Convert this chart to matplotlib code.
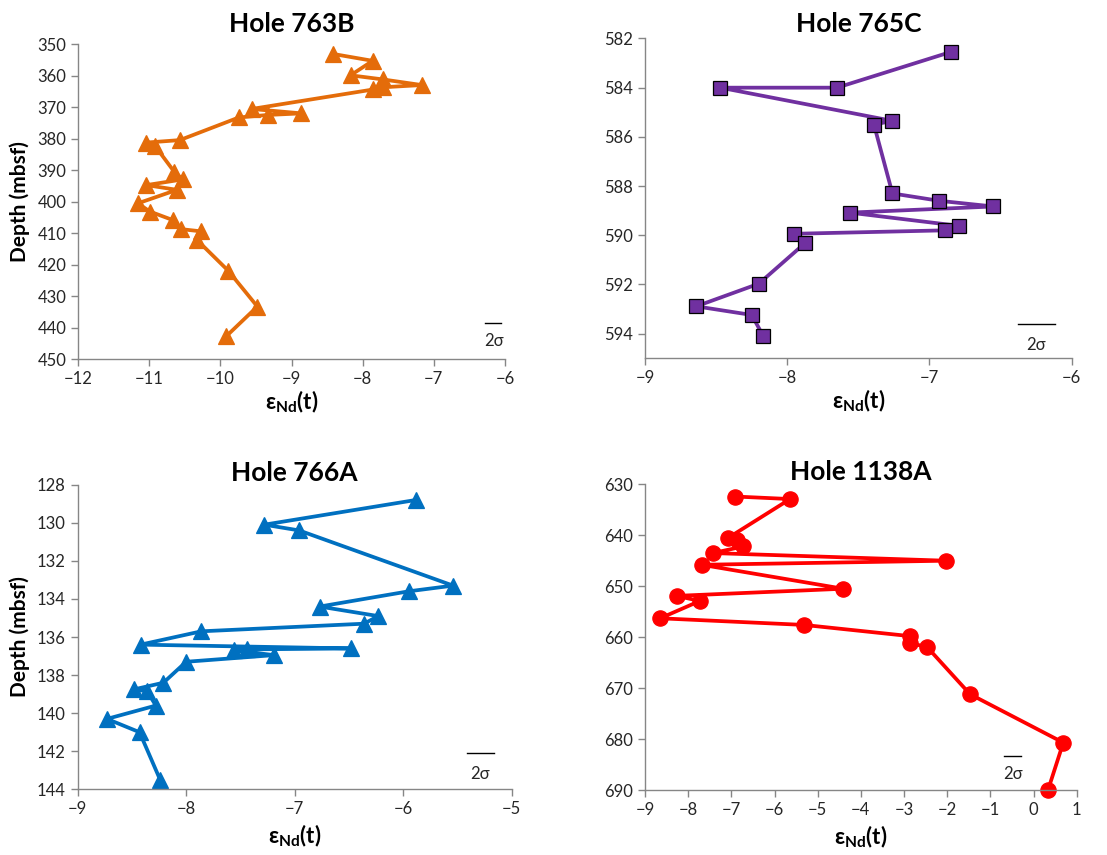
import matplotlib
matplotlib.use("Agg")
import matplotlib.pyplot as plt

plt.rcParams['font.family'] = ['Lato', 'DejaVu Sans']
plt.rcParams['mathtext.fontset'] = 'custom'
plt.rcParams['mathtext.bf'] = 'Lato:bold'
plt.rcParams['mathtext.rm'] = 'Lato'

# Hole 763B
eps_763b = [-8.42, -7.86, -8.17, -7.72, -7.17, -7.71, -7.85, -9.56, -8.86, -9.33,
            -9.74, -10.57, -11.05, -10.92, -10.65, -10.53, -11.04, -10.61, -11.16,
            -10.99, -10.67, -10.55, -10.27, -10.33, -9.89, -9.48, -9.92]
dep_763b = [353.0, 355.2, 359.8, 361.1, 362.9, 363.6, 364.3, 370.5, 371.9, 372.4,
            373.2, 380.4, 381.2, 382.2, 390.4, 392.9, 394.7, 396.2, 400.5,
            403.1, 405.8, 408.7, 409.4, 412.1, 421.9, 433.3, 442.8]

# Hole 765C
eps_765c = [-6.85, -7.65, -8.47, -7.26, -7.39, -7.26, -6.93, -6.55, -7.56, -6.79,
            -6.89, -7.95, -7.875, -8.20, -8.64, -8.25, -8.17]
dep_765c = [582.55, 584.0, 584.0, 585.35, 585.5, 588.3, 588.6, 588.83, 589.08, 589.62,
            589.8, 589.94, 590.32, 591.97, 592.89, 593.24, 594.08]

# Hole 766A
eps_766a = [-5.88, -7.28, -6.96, -5.54, -5.95, -6.77, -6.23, -6.36, -7.86, -8.42,
            -6.48, -7.44, -7.56, -7.19, -8.00, -8.21, -8.48, -8.36, -8.28, -8.73,
            -8.43, -8.24]
dep_766a = [128.8, 130.1, 130.4, 133.3, 133.6, 134.4, 134.9, 135.3, 135.7, 136.4,
            136.6, 136.65, 136.7, 136.95, 137.3, 138.4, 138.75, 138.85, 139.6, 140.3,
            141.0, 143.5]

# Hole 1138A
eps_1138a = [-6.92, -5.64, -7.07, -6.88, -6.72, -7.43, -2.03, -7.69, -4.41, -8.27,
             -7.73, -8.65, -5.32, -2.86, -2.86, -2.47, -1.47, 0.69, 0.34]
dep_1138a = [632.4, 632.9, 640.5, 641.0, 642.2, 643.5, 645.0, 645.8, 650.5, 651.9,
             652.9, 656.3, 657.6, 659.8, 661.2, 661.9, 671.2, 680.7, 689.9]

panels = [
    # title, x, y, xlim, xticks, ylim, yticks, color, marker, ms, edge, rect, title pad,
    # xlabel pad, 2sigma bar (x0, x1, y), 2sigma text pos, show ylabel
    ("Hole 763B", eps_763b, dep_763b, (-12, -6), range(-12, -5), (450, 350), range(350, 451, 10),
     '#E46C0A', '^', 12, '#E46C0A', [0.0705, 0.580, 0.3857, 0.368], 9, 1,
     (-6.28, -6.05, 438.6), (-6.15, 444.4), True),
    ("Hole 765C", eps_765c, dep_765c, (-9, -6), range(-9, -5), (595, 582), range(582, 595, 2),
     '#7030A0', 's', 10.5, 'black', [0.5827, 0.581, 0.3853, 0.374], 5, 1,
     (-6.38, -6.12, 593.62), (-6.25, 594.45), False),
    ("Hole 766A", eps_766a, dep_766a, (-9, -5), range(-9, -4), (144, 128), range(128, 145, 2),
     '#0070C0', '^', 12, '#0070C0', [0.0702, 0.0768, 0.3920, 0.3563], 3, 4,
     (-5.41, -5.16, 142.08), (-5.29, 143.2), True),
    ("Hole 1138A", eps_1138a, dep_1138a, (-9, 1), range(-9, 2), (690, 630), range(630, 691, 10),
     '#FF0000', 'o', 11, '#FF0000', [0.5827, 0.076, 0.3899, 0.3576], 3, 4,
     (-0.68, -0.29, 683.3), (-0.48, 686.9), False),
]

fig = plt.figure(figsize=(11.07, 8.55), dpi=100)

for (title, xs, ys, xlim, xticks, ylim, yticks, color, marker, ms, edge, rect, pad, xpad,
     bar, txt, ylab) in panels:
    ax = fig.add_axes(rect)
    ax.plot(xs, ys, color=color, lw=2.7, marker=marker, ms=ms,
            markerfacecolor=color, markeredgecolor=edge, markeredgewidth=0.9, clip_on=False)
    ax.set_xlim(*xlim)
    ax.set_ylim(*ylim)
    ax.set_xticks(list(xticks))
    ax.set_yticks(list(yticks))
    for s in ['top', 'right']:
        ax.spines[s].set_visible(False)
    for s in ['left', 'bottom']:
        ax.spines[s].set_color('#868686')
        ax.spines[s].set_linewidth(1.0)
    ax.tick_params(direction='out', length=5, width=1, color='#868686',
                   labelsize=12, labelcolor='#262626')
    ax.set_title(title, fontsize=19, fontweight='bold', pad=pad)
    ax.set_xlabel(r'ε$_{\mathbf{Nd}}$(t)', fontsize=16, fontweight='bold', labelpad=xpad)
    if ylab:
        ax.set_ylabel('Depth (mbsf)', fontsize=15, fontweight='bold', labelpad=5)
    ax.plot([bar[0], bar[1]], [bar[2], bar[2]], color='black', lw=1)
    ax.text(txt[0], txt[1], '2σ', ha='center', va='center', fontsize=12, color='#262626')

fig.savefig("out.png", dpi=100)
